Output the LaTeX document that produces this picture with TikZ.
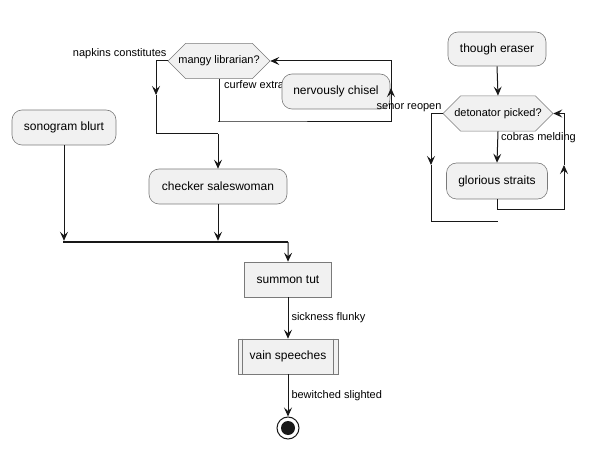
\documentclass[tikz,border=0pt]{standalone}
\usepackage{fontspec}
\setmainfont{Liberation Sans}
\usetikzlibrary{arrows.meta,shapes.misc}

\definecolor{boxfill}{HTML}{F1F1F1}
\definecolor{boxline}{HTML}{7A7A7A}
\definecolor{flowline}{HTML}{181818}

\tikzset{
	action/.style={draw=boxline, fill=boxfill, line width=0.6pt, rounded corners=10pt, font=\fontsize{12}{14}\selectfont, inner sep=0pt},
	plain/.style={draw=boxline, fill=boxfill, line width=0.6pt, font=\fontsize{12}{14}\selectfont, inner sep=0pt},
	choice/.style={chamfered rectangle, chamfered rectangle xsep=10pt, chamfered rectangle ysep=12.5pt, draw=boxline, fill=boxfill, line width=0.6pt, font=\fontsize{11}{13}\selectfont, inner xsep=2pt, inner ysep=0pt, minimum height=25pt},
	note/.style={font=\fontsize{11}{13}\selectfont, inner sep=1pt},
	line/.style={draw=flowline, line width=1pt},
	flow/.style={line, -{Stealth[length=9pt,width=8pt,inset=3.5pt]}}
}

\begin{document}
\begin{tikzpicture}[x=1pt,y=-1pt]
\useasboundingbox (0,0) rectangle (589,449);

\node (mangy) at (219,61) [choice, minimum width=102pt] {mangy librarian?};
\node [note, anchor=north west] at ([xshift=4pt]mangy.south) {curfew extra};
\node (chisel) at (336,91.5) [action, minimum width=108pt, minimum height=35pt] {nervously chisel};
\node (sonogram) at (64,127.5) [action, minimum width=104pt, minimum height=35pt] {sonogram blurt};
\node (checker) at (218,186.5) [action, minimum width=138pt, minimum height=35pt] {checker saleswoman};

\node (eraser) at (497,49) [action, minimum width=98pt, minimum height=34pt] {though eraser};
\node (detonator) at (498,113.5) [choice, minimum width=110pt] {detonator picked?};
\node (glorious) at (497,181) [action, minimum width=101pt, minimum height=36pt] {glorious straits};

\node (bar) at (175.5,242) [fill=flowline, inner sep=0pt, minimum width=225pt, minimum height=2pt] {};
\node (summon) at (288,279.5) [plain, minimum width=87pt, minimum height=35pt] {summon tut};
\node (vain) at (288,356.5) [plain, minimum width=100pt, minimum height=35pt] {vain speeches};
\draw [boxline, line width=0.6pt] ([xshift=5pt]vain.north west) -- ([xshift=5pt]vain.south west);
\draw [boxline, line width=0.6pt] ([xshift=-5pt]vain.north east) -- ([xshift=-5pt]vain.south east);
\node (stop) at (288,428) [circle, draw=flowline, line width=1pt, fill=white, minimum size=22pt, inner sep=0pt] {};
\node (stopdot) at (stop) [circle, fill=flowline, minimum size=14pt, inner sep=0pt] {};

\coordinate (leftmid) at (156,95);
\coordinate (leftjoin) at (218,134);
\coordinate (loopmid) at (391,88);
\coordinate (loopcorner) at (218,122);
\coordinate (dleftmid) at (431,165);
\coordinate (dleftend) at (498,222);
\coordinate (drightmid) at (564,165);
\coordinate (dcorner) at (497,210);

\draw [flow] (mangy.west) -| (leftmid);
\draw [line] (leftmid) |- (leftjoin);
\draw [flow] (leftjoin) -- (checker.north);
\draw [line] (mangy.south) |- (loopcorner) -| (loopmid);
\draw [flow] (loopcorner -| loopmid) -- (loopmid);
\draw [flow] (loopmid) |- (mangy.east);
\node [note, anchor=south east] at ([yshift=1pt]mangy.west) {napkins constitutes};

\draw [flow] (eraser.south) -- (detonator.north);
\draw [flow] (detonator.south) -- (glorious.north);
\node [note, anchor=north west] at ([xshift=2pt]detonator.south) {cobras melding};
\draw [line] (glorious.south) |- (dcorner -| drightmid);
\draw [flow] (dcorner -| drightmid) -- (drightmid);
\draw [flow] (drightmid) |- (detonator.east);
\draw [flow] (detonator.west) -| (dleftmid);
\draw [line] (dleftmid) |- (dleftend);
\node [note, anchor=south east] at ([yshift=1pt]detonator.west) {senor reopen};

\draw [flow] (sonogram.south) -- (sonogram.south |- bar.north);
\draw [flow] (checker.south) -- (checker.south |- bar.north);
\draw [flow] (bar.east) -- (summon.north);
\draw [flow] (summon.south) -- node [note, anchor=west, xshift=2pt] {sickness flunky} (vain.north);
\draw [flow] (vain.south) -- node [note, anchor=west, xshift=2pt] {bewitched slighted} (stop.north);
\end{tikzpicture}
\end{document}
